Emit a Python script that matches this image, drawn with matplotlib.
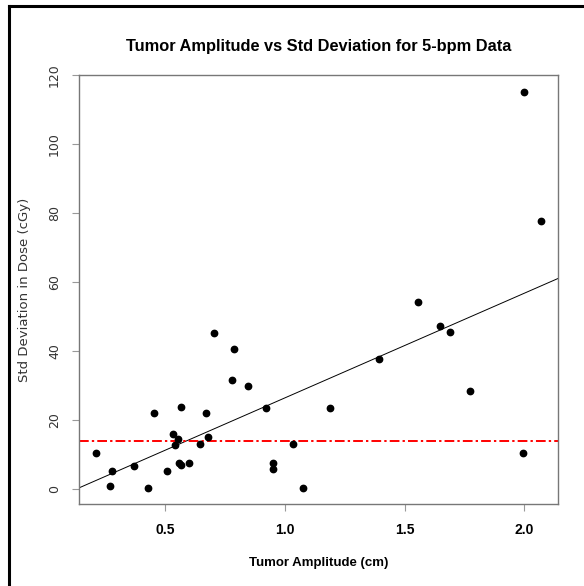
#!/usr/bin/env python

# Scatter of tumor amplitude vs dose std deviation, with a fitted line
import numpy as np
import matplotlib
matplotlib.use("Agg")
import matplotlib.pyplot as plt
from matplotlib.lines import Line2D

# Values
amplitude = [0.210, 0.278, 0.268, 0.370, 0.426, 0.452, 0.508, 0.533, 0.551, 0.539,
             0.565, 0.556, 0.567, 0.599, 0.645, 0.677, 0.670, 0.703, 0.787, 0.777,
             0.846, 0.921, 0.950, 0.950, 1.033, 1.074, 1.189, 1.392, 1.556, 1.650,
             1.691, 1.774, 1.995, 2.000, 2.070]
std_dev = [10.4, 5.4, 0.8, 6.8, 0.2, 22.2, 5.4, 16.0, 14.6, 12.8,
           23.8, 7.6, 7.0, 7.5, 13.2, 15.0, 22.2, 45.3, 40.5, 31.6,
           29.9, 23.5, 7.6, 5.9, 13.1, 0.2, 23.5, 37.6, 54.1, 47.3,
           45.4, 28.5, 10.4, 115.2, 77.7]
threshold = 13.9
x_ticks = [0.5, 1.0, 1.5, 2.0]
y_ticks = [0, 20, 40, 60, 80, 100, 120]

plt.rcParams["font.family"] = ["Liberation Sans", "DejaVu Sans"]

fig = plt.figure(figsize=(5.84, 5.86), dpi=100)
ax = fig.add_axes([79 / 584, 1 - 504 / 586, (558 - 79) / 584, (504 - 75) / 586])

# points
ax.scatter(amplitude, std_dev, s=21, color="black", zorder=3)

# least squares line across the whole plot
slope, intercept = np.polyfit(amplitude, std_dev, 1)
xs = np.array([0.0, 2.5])
ax.plot(xs, intercept + slope * xs, color="black", linewidth=0.7, zorder=2)

# horizontal reference line
ax.axhline(threshold, color="red", linewidth=1.4, linestyle=(0, (5, 1.6, 1.2, 1.6)), zorder=2)

ax.set_xlim(0.1385, 2.142)
ax.set_ylim(-4.3, 120)
ax.set_xticks(x_ticks)
ax.set_xticklabels([f"{t:.1f}" for t in x_ticks], fontweight="bold", fontsize=10)
ax.set_yticks(y_ticks)
ax.set_yticklabels([str(t) for t in y_ticks], rotation=90, va="center", fontsize=9,
                   color="#333333", family="DejaVu Sans")

for side in ax.spines.values():
    side.set_color("#777777")
    side.set_linewidth(1.0)
ax.tick_params(axis="both", length=5, width=0.8, color="#999999")
ax.tick_params(axis="x", pad=9)
ax.tick_params(axis="y", pad=8)

ax.set_title("Tumor Amplitude vs Std Deviation for 5-bpm Data", fontweight="bold", fontsize=11.8, pad=17)
ax.set_xlabel("Tumor Amplitude (cm)", fontweight="bold", fontsize=9.5, labelpad=14)
ax.set_ylabel("Std Deviation in Dose (cGy)", fontsize=9.5, color="#333333", labelpad=12,
              family="DejaVu Sans")

# outer frame lines on the left and top edges of the picture
fig.add_artist(Line2D([9 / 584, 9 / 584], [0, 1 - 6 / 586], color="black", linewidth=2.2))
fig.add_artist(Line2D([9 / 584, 1], [1 - 6 / 586, 1 - 6 / 586], color="black", linewidth=2.2))

fig.savefig("out.png", dpi=100)
plt.close(fig)
